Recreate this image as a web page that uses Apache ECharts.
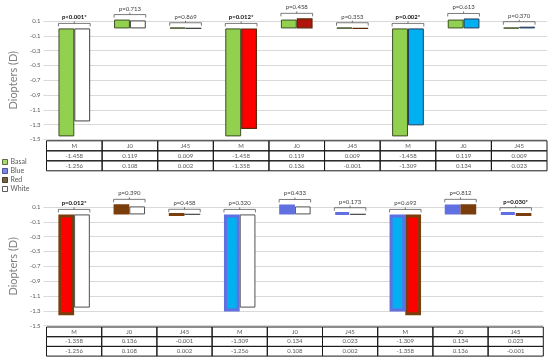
<!DOCTYPE html>
<html>
<head>
<meta charset="utf-8">
<script src="https://cdn.jsdelivr.net/npm/echarts@6/dist/echarts.min.js"></script>
<style>
  html, body { margin: 0; padding: 0; background: #fff; }
  #chart { width: 550px; height: 361px; }
</style>
</head>
<body>
<div id="chart"></div>
<script>
// ---------- DATA ----------
const categories = ['M', 'J0', 'J45', 'M', 'J0', 'J45', 'M', 'J0', 'J45'];

// Top panel (comparisons against Basal)
const topRow1 = [-1.458, 0.119, 0.009, -1.458, 0.119, 0.009, -1.458, 0.119, 0.009];
const topRow2 = [-1.256, 0.108, 0.002, -1.358, 0.136, -0.001, -1.309, 0.134, 0.023];
const topLeftCond = ['Basal', 'Basal', 'Basal'];
const topRightCond = ['White', 'Red', 'Blue'];
const topP = ['p<0.001*', 'p=0.713', 'p=0.869', 'p=0.012*', 'p=0.458', 'p=0.353', 'p=0.002*', 'p=0.613', 'p=0.370'];

// Bottom panel (comparisons between filters)
const bottomRow1 = [-1.358, 0.136, -0.001, -1.309, 0.134, 0.023, -1.309, 0.134, 0.023];
const bottomRow2 = [-1.256, 0.108, 0.002, -1.256, 0.108, 0.002, -1.358, 0.136, -0.001];
const bottomLeftCond = ['Red', 'Blue', 'Blue'];
const bottomRightCond = ['White', 'White', 'Red'];
const bottomP = ['p=0.012*', 'p=0.390', 'p=0.458', 'p=0.320', 'p=0.433', 'p=0.173', 'p=0.692', 'p=0.812', 'p=0.030*'];

const legendNames = ['Basal', 'Blue', 'Red', 'White'];
const yMin = -1.5, yMax = 0.1, yStep = 0.2;
const yTitle = 'Diopters (D)';

// ---------- STYLES ----------
const FONT = 'Lato, "Open Sans", sans-serif';
const fills = { Basal: '#92D050', Blue: '#00B0F0', Red: '#FF0000', White: '#FFFFFF' };
const borders = {
  top:    { Basal: ['#3D4F22', 1], White: ['#404040', 1], Red: ['#5A2A0A', 1.2], Blue: ['#253A5E', 1] },
  bottom: { Basal: ['#3D4F22', 1], White: ['#505050', 1], Red: ['#7A3E0C', 3], Blue: ['#6070E0', 3] }
};
function itemStyleFor(cond, panel, catName) {
  const b = borders[panel][cond];
  let fill = fills[cond];
  if (panel === 'bottom' && catName !== 'M' && cond !== 'White') fill = b[0];
  if (panel === 'top' && catName !== 'M' && cond === 'Red') fill = '#B0160C';
  return { color: fill, borderColor: b[0], borderWidth: b[1] };
}

function barSeries(vals, conds, gi, panel) {
  return {
    type: 'bar', xAxisIndex: gi, yAxisIndex: gi,
    barGap: '0%', barCategoryGap: '43%', clip: false, silent: true,
    data: vals.map((v, i) => ({ value: v, itemStyle: itemStyleFor(conds[Math.floor(i / 3)], panel, categories[i]) }))
  };
}

function bracketSeries(r1, r2, ps, gi) {
  return {
    type: 'custom', xAxisIndex: gi, yAxisIndex: gi, silent: true, z: 5,
    data: categories.map((c, i) => [i, Math.max(0, r1[i], r2[i])]),
    renderItem: function (params, api) {
      const i = api.value(0);
      const p = api.coord([i, api.value(1)]);
      const bw = api.size([1, 0])[0];
      const half = bw * 0.285;
      const y = p[1] - 5;
      const txt = ps[i];
      const bold = txt.indexOf('*') >= 0;
      return {
        type: 'group',
        children: [
          { type: 'polyline', shape: { points: [[p[0] - half, y + 3], [p[0] - half, y], [p[0] + half, y], [p[0] + half, y + 3]] },
            style: { stroke: '#595959', lineWidth: 0.8, fill: null } },
          { type: 'line', shape: { x1: p[0], y1: y, x2: p[0], y2: y - 2 }, style: { stroke: '#595959', lineWidth: 0.8 } },
          { type: 'text', style: { text: txt, x: p[0], y: y - 6, align: 'center', verticalAlign: 'middle',
            fill: bold ? '#111' : '#404040', font: (bold ? 'bold ' : '') + '6px ' + FONT } }
        ]
      };
    }
  };
}

function tableSeries(r1, r2, gi, rowH) {
  return {
    type: 'custom', xAxisIndex: gi, yAxisIndex: gi, silent: true, z: 6,
    data: categories.map((c, i) => [i, yMin]),
    renderItem: function (params, api) {
      const i = api.value(0);
      const p = api.coord([i, api.value(1)]);
      const bw = api.size([1, 0])[0];
      const x0 = p[0] - bw / 2;
      const y0 = p[1] + 1.3;
      const texts = [categories[i], r1[i].toFixed(3), r2[i].toFixed(3)];
      const children = [];
      texts.forEach((t, k) => {
        children.push({ type: 'rect', shape: { x: x0, y: y0 + k * rowH, width: bw, height: rowH },
          style: { fill: null, stroke: '#1a1a1a', lineWidth: 1 } });
        children.push({ type: 'text', style: { text: t, x: p[0], y: y0 + k * rowH + rowH / 2,
          align: 'center', verticalAlign: 'middle', fill: '#595959', font: '6px ' + FONT } });
      });
      return { type: 'group', children: children };
    }
  };
}

function yAxisFor(gi) {
  return {
    gridIndex: gi, type: 'value', min: yMin, max: yMax, interval: yStep,
    name: yTitle, nameLocation: 'middle', nameGap: 27,
    nameTextStyle: { color: '#7f7f7f', fontSize: 11, fontFamily: FONT },
    axisLine: { show: false },
    axisTick: { show: true, length: 3, lineStyle: { color: '#d9d9d9' } },
    axisLabel: { color: '#595959', fontSize: 6, fontFamily: FONT, margin: 6,
      formatter: v => (Math.round(v * 10) / 10).toFixed(1) },
    splitLine: { lineStyle: { color: '#d9d9d9', width: 1 } }
  };
}
function xAxisFor(gi) {
  return {
    gridIndex: gi, type: 'category', data: categories,
    axisLine: { show: false }, axisTick: { show: false }, axisLabel: { show: false }, splitLine: { show: false }
  };
}

const chart = echarts.init(document.getElementById('chart'), null, { renderer: 'canvas' });
chart.setOption({
  animation: false,
  backgroundColor: '#fff',
  textStyle: { fontFamily: FONT },
  grid: [
    { left: 43, right: 3, top: 21, height: 118.5 },
    { left: 42.3, right: 6.7, top: 207, height: 118.7 }
  ],
  xAxis: [xAxisFor(0), xAxisFor(1)],
  yAxis: [yAxisFor(0), yAxisFor(1)],
  legend: {
    orient: 'vertical', left: 2, top: 158.5, padding: 0,
    itemWidth: 5, itemHeight: 5, itemGap: 2, icon: 'rect', selectedMode: false,
    textStyle: { fontSize: 7, color: '#595959', fontFamily: FONT, padding: [0, 0, 0, -2] },
    data: [
      { name: 'Basal', itemStyle: { color: '#92D050', borderColor: '#3D4F22', borderWidth: 1 } },
      { name: 'Blue', itemStyle: { color: '#5B6CD8', borderColor: '#2F3A80', borderWidth: 1 } },
      { name: 'Red', itemStyle: { color: '#4E3E14', borderColor: '#2E2408', borderWidth: 1 } },
      { name: 'White', itemStyle: { color: '#FFFFFF', borderColor: '#333', borderWidth: 1 } }
    ]
  },
  series: [
    barSeries(topRow1, topLeftCond, 0, 'top'),
    barSeries(topRow2, topRightCond, 0, 'top'),
    bracketSeries(topRow1, topRow2, topP, 0),
    tableSeries(topRow1, topRow2, 0, 10),
    barSeries(bottomRow1, bottomLeftCond, 1, 'bottom'),
    barSeries(bottomRow2, bottomRightCond, 1, 'bottom'),
    bracketSeries(bottomRow1, bottomRow2, bottomP, 1),
    tableSeries(bottomRow1, bottomRow2, 1, 9.7)
  ].concat(legendNames.map(n => ({ type: 'scatter', name: n, xAxisIndex: 0, yAxisIndex: 0, data: [] })))
});
</script>
</body>
</html>
